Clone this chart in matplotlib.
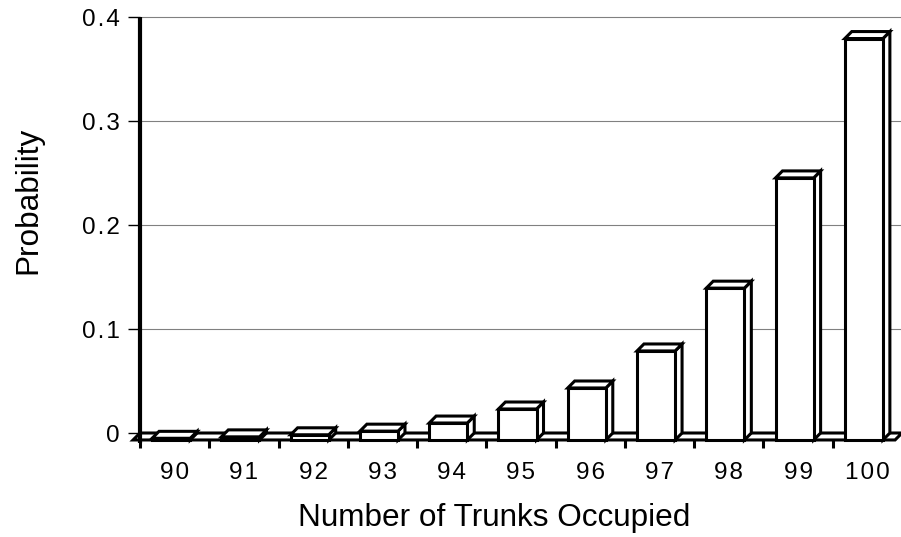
import matplotlib
matplotlib.use("Agg")
import matplotlib.pyplot as plt
from matplotlib.patches import Polygon

plt.rcParams['font.family'] = ['Liberation Sans', 'DejaVu Sans']

# data
trunks = ['90', '91', '92', '93', '94', '95', '96', '97', '98', '99', '100']
prob = [0.0016, 0.003, 0.005, 0.0085, 0.0163, 0.0298, 0.050, 0.0856, 0.146, 0.252, 0.386]
yticks = [0, 0.1, 0.2, 0.3, 0.4]
ytick_labels = ['0', '0.1', '0.2', '0.3', '0.4']

# fake 3d depth (data units): about 7 px right / 7 px up
dx = 0.10
dy = 0.0067
w = 0.55
lw = 2.2

fig = plt.figure(figsize=(9.01, 5.37), dpi=100)
ax = fig.add_axes([140/901, (537-453.8)/537, 762/901, 436.8/537])
n = len(trunks)
ax.set_xlim(0, n)
ax.set_ylim(-0.02, 0.4)
for s in ax.spines.values():
    s.set_visible(False)

# back wall gridlines
for t in yticks[1:]:
    ax.plot([0, n], [t, t], color='#808080', lw=0.8, zorder=1, clip_on=False)

# floor
floor = Polygon([(0, 0), (n, 0), (n - dx, -dy), (-dx, -dy)], closed=True,
                facecolor='white', edgecolor='black', lw=lw, zorder=2,
                joinstyle='miter', clip_on=False)
ax.add_patch(floor)

# ticks under the floor at category boundaries
for k in range(n + 1):
    ax.plot([k, k], [-dy, -dy - 0.0075], color='black', lw=lw, zorder=2,
            solid_capstyle='butt', clip_on=False)

# y axis line
ax.plot([0, 0], [-0.0095, 0.4], color='black', lw=3.0, zorder=5,
        solid_capstyle='butt', clip_on=False)

# bars: front face with ax.bar, then top and side faces
centers = [k + 0.5 - dx / 2 for k in range(n)]
bars = ax.bar(centers, prob, width=w, bottom=-dy, facecolor='white',
              edgecolor='black', lw=lw, zorder=3, clip_on=False)
for b in bars:
    x0 = b.get_x()
    x1 = x0 + b.get_width()
    y0 = b.get_y()
    y1 = y0 + b.get_height()
    top = Polygon([(x0, y1), (x1, y1), (x1 + dx, y1 + dy), (x0 + dx, y1 + dy)],
                  closed=True, facecolor='white', edgecolor='black', lw=lw,
                  zorder=3, joinstyle='miter', clip_on=False)
    side = Polygon([(x1, y0), (x1 + dx, y0 + dy), (x1 + dx, y1 + dy), (x1, y1)],
                   closed=True, facecolor='white', edgecolor='black', lw=lw,
                   zorder=3, joinstyle='miter', clip_on=False)
    ax.add_patch(side)
    ax.add_patch(top)
    b.set_zorder(4)

# ticks and labels (slightly letter-spaced like the original)
ax.set_yticks(yticks)
ax.set_yticklabels(['\u200a'.join(s) for s in ytick_labels])
ax.tick_params(axis='y', length=8.6, width=1, pad=5.8, labelsize=17.5, color='black')
ax.set_xticks([k + 0.5 for k in range(n)])
ax.set_xticklabels(['\u200a'.join(s) for s in trunks])
ax.tick_params(axis='x', length=0, pad=6, labelsize=17.5)

ax.set_xlabel('Number of Trunks Occupied', fontsize=22.7)
ax.xaxis.set_label_coords((494.5 - 140) / 762, (453.8 - 503) / 436.8)
ax.set_ylabel('Probability', fontsize=22.7)
ax.yaxis.set_label_coords((43 - 140) / 762, (453.8 - 200) / 436.8)

fig.savefig('out.png', dpi=100)
